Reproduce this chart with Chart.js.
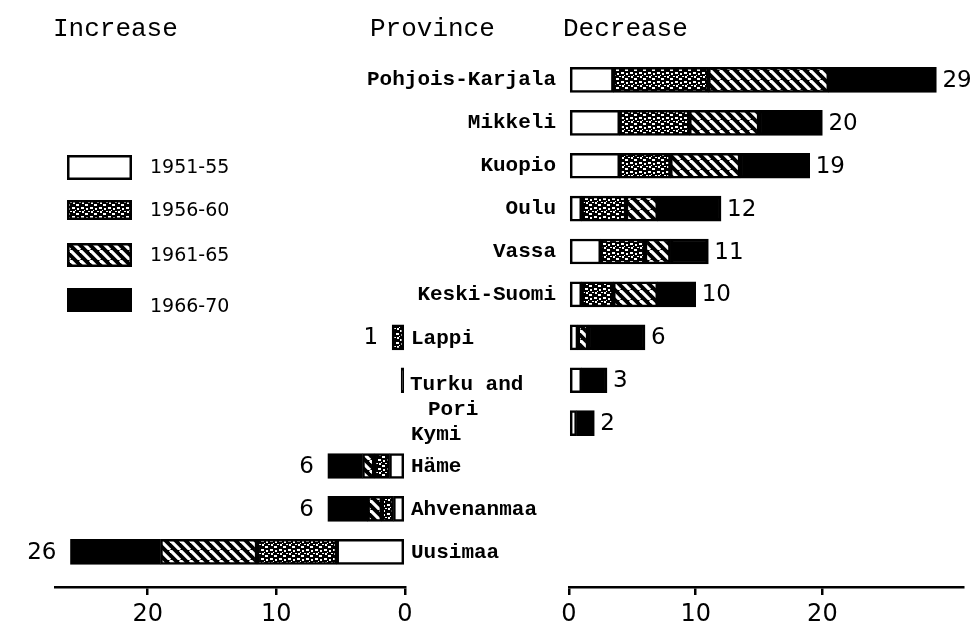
<!DOCTYPE html>
<html>
<head>
<meta charset="utf-8">
<script src="https://cdn.jsdelivr.net/npm/chart.js@4.4.0/dist/chart.umd.min.js"></script>
<style>
  html, body { margin: 0; padding: 0; background: #fff; }
  #wrap { position: relative; width: 972px; height: 622px; }
  #wrap canvas { position: absolute; left: 0; top: 0; }
</style>
</head>
<body>
<div id="wrap">
  <canvas id="increase-chart" width="972" height="622"></canvas>
  <canvas id="decrease-chart" width="972" height="622"></canvas>
</div>
<script>
const headings = ["Increase", "Province", "Decrease"];
const provinces = ["Pohjois-Karjala", "Mikkeli", "Kuopio", "Oulu", "Vassa", "Keski-Suomi",
  "Lappi", ["Turku and", "Pori"], "Kymi", "Häme", "Ahvenanmaa", "Uusimaa"];
const periods = ["1951-55", "1956-60", "1961-65", "1966-70"];

// decrease, per period
const dec5155 = [3.5, 4, 4, 1, 2.5, 1, 0.7, 1, 0.6, 0, 0, 0];
const dec5660 = [7.5, 5.5, 4, 3.5, 3.5, 2.5, 0, 0, 0, 0, 0, 0];
const dec6165 = [9.5, 5.5, 5.5, 2.5, 2, 3.5, 0.8, 0, 0, 0, 0, 0];
const dec6670 = [8.5, 5, 5.5, 5, 3, 3, 4.5, 2, 1.4, 0, 0, 0];

// increase, per period
const inc5155 = [0, 0, 0, 0, 0, 0, 0, 0, 0, 1.2, 0.9, 5.3];
const inc5660 = [0, 0, 0, 0, 0, 0, 1, 0, 0, 1.2, 0.9, 6.2];
const inc6165 = [0, 0, 0, 0, 0, 0, 0, 0, 0, 0.9, 1.1, 7.5];
const inc6670 = [0, 0, 0, 0, 0, 0, 0, 0.3, 0, 2.7, 3.1, 7];

const tickValues = [0, 10, 20];

// fill patterns
function makeHatch() {
  const c = document.createElement("canvas");
  c.width = 10; c.height = 10;
  const g = c.getContext("2d");
  g.fillStyle = "#000";
  g.fillRect(0, 0, 10, 10);
  g.strokeStyle = "#fff";
  g.lineWidth = 3.2;
  for (const x0 of [-10, 0, 10]) {
    g.beginPath(); g.moveTo(x0, 0); g.lineTo(x0 + 10, 10); g.stroke();
  }
  return g.createPattern(c, "repeat");
}

function makeStipple() {
  const c = document.createElement("canvas");
  c.width = 9; c.height = 9;
  const g = c.getContext("2d");
  g.fillStyle = "#000";
  g.fillRect(0, 0, 9, 9);
  g.fillStyle = "#fff";
  [[0, 0, 3, 2], [5, 1, 2, 2], [1, 4, 2, 2], [4, 6, 3, 2], [7, 4, 2, 1], [3, 3, 1, 1]]
    .forEach(r => g.fillRect(r[0], r[1], r[2], r[3]));
  return g.createPattern(c, "repeat");
}

const fills = ["#fff", makeStipple(), makeHatch(), "#000"];

function buildDatasets(series) {
  return series.map((vals, k) => ({
    label: periods[k],
    data: vals.map((v, i) => ({ x: v, y: i })).filter(d => d.x > 0),
    backgroundColor: fills[k],
    borderColor: "#000",
    borderWidth: 2.5,
    borderSkipped: false,
    barThickness: 25
  }));
}

function totals(series) {
  return provinces.map((p, i) => series.reduce((s, vals) => s + vals[i], 0));
}

function xAxis(max, reverse) {
  return {
    type: "linear",
    min: 0,
    max: max,
    reverse: reverse,
    stacked: true,
    afterBuildTicks: s => { s.ticks = tickValues.map(v => ({ value: v })); },
    afterFit: s => { s.height = 35; },
    border: { display: true, color: "#000", width: 2.5 },
    grid: { drawOnChartArea: false, drawTicks: true, tickLength: 8, color: "#000", lineWidth: 2.5 },
    ticks: { color: "#000", padding: 5, maxRotation: 0, font: { family: "DejaVu Sans", size: 24 } }
  };
}

const yAxis = { type: "linear", display: false, offset: false, min: -0.5, max: 11.82, reverse: true, stacked: true };

const baseOptions = {
  responsive: false,
  animation: false,
  events: [],
  indexAxis: "y",
  plugins: { legend: { display: false }, tooltip: { enabled: false } }
};

const incTotals = totals([inc5155, inc5660, inc6165, inc6670]);
const decTotals = totals([dec5155, dec5660, dec6165, dec6670]);

const numberFont = '23px "DejaVu Sans"';

const increaseLabels = {
  id: "increaseLabels",
  afterDraw(chart) {
    const { ctx, scales } = chart;
    ctx.save();
    ctx.fillStyle = "#000";
    ctx.font = numberFont;
    ctx.textAlign = "right";
    ctx.textBaseline = "middle";
    incTotals.forEach((t, i) => {
      if (t < 0.5) return;
      ctx.fillText(String(Math.round(t)), scales.x.getPixelForValue(t) - 14, scales.y.getPixelForValue(i) + 1);
    });
    ctx.restore();
  }
};

const decreaseLabels = {
  id: "decreaseLabels",
  afterDraw(chart) {
    const { ctx, scales } = chart;
    ctx.save();
    ctx.fillStyle = "#000";

    // bar totals
    ctx.font = numberFont;
    ctx.textAlign = "left";
    ctx.textBaseline = "middle";
    decTotals.forEach((t, i) => {
      if (t < 0.5) return;
      ctx.fillText(String(Math.round(t)), scales.x.getPixelForValue(t) + 6, scales.y.getPixelForValue(i) + 1);
    });

    // headings
    ctx.font = '26px "Liberation Mono"';
    ctx.textBaseline = "alphabetic";
    ctx.fillText(headings[0], 53, 36);
    ctx.fillText(headings[1], 370, 36);
    ctx.fillText(headings[2], 563, 36);

    // province names
    ctx.font = 'bold 21px "Liberation Mono"';
    ctx.textBaseline = "middle";
    provinces.forEach((p, i) => {
      const yc = scales.y.getPixelForValue(i);
      if (i < 6) {
        ctx.textAlign = "right";
        ctx.fillText(p, 556, yc);
      } else if (Array.isArray(p)) {
        ctx.textAlign = "left";
        ctx.fillText(p[0], 410, yc + 4);
        ctx.fillText(p[1], 428, yc + 29);
      } else {
        ctx.textAlign = "left";
        ctx.fillText(p, 411, p === "Kymi" ? yc + 12 : yc + 1);
      }
    });

    // legend
    const boxes = [[67, 155, 25], [67, 200, 20], [67, 243, 24], [67, 288, 24]];
    ctx.font = '19px "DejaVu Sans"';
    ctx.textAlign = "left";
    periods.forEach((name, k) => {
      const [bx, by, bh] = boxes[k];
      ctx.fillStyle = fills[k];
      ctx.fillRect(bx, by, 65, bh);
      ctx.strokeStyle = "#000";
      ctx.lineWidth = 2.5;
      ctx.strokeRect(bx + 1.25, by + 1.25, 62.5, bh - 2.5);
      ctx.fillStyle = "#000";
      ctx.fillText(name, 150, k === 3 ? by + 19 : by + bh / 2 + 1);
    });
    ctx.restore();
  }
};

new Chart(document.getElementById("increase-chart").getContext("2d"), {
  type: "bar",
  data: { datasets: buildDatasets([inc5155, inc5660, inc6165, inc6670]) },
  options: {
    ...baseOptions,
    layout: { padding: { top: 58.5, left: 55, right: 567, bottom: 0 } },
    scales: { x: xAxis(27.2, true), y: yAxis }
  },
  plugins: [increaseLabels]
});

new Chart(document.getElementById("decrease-chart").getContext("2d"), {
  type: "bar",
  data: { datasets: buildDatasets([dec5155, dec5660, dec6165, dec6670]) },
  options: {
    ...baseOptions,
    layout: { padding: { top: 58.5, left: 569, right: 9, bottom: 0 } },
    scales: { x: xAxis(31.1, false), y: yAxis }
  },
  plugins: [decreaseLabels]
});
</script>
</body>
</html>
